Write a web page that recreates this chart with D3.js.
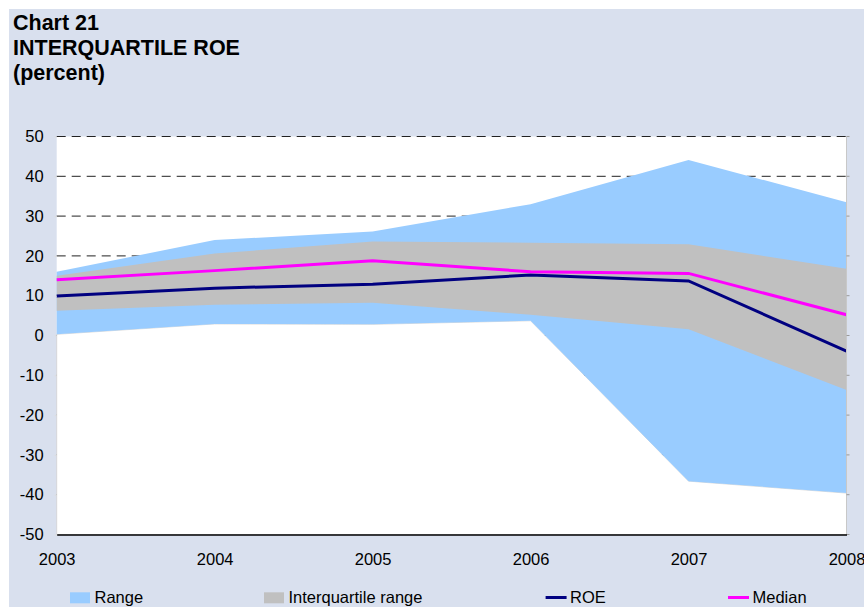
<!DOCTYPE html>
<html>
<head>
<meta charset="utf-8">
<script src="https://cdn.jsdelivr.net/npm/d3@7"></script>
<style>
  html, body { margin: 0; padding: 0; background: #fff; }
  svg { display: block; font-family: "Liberation Sans", Arial, sans-serif; }
</style>
</head>
<body>
<svg id="chart" width="864" height="607"></svg>
<script>
const years      = [2003, 2004, 2005, 2006, 2007, 2008];
const rangeHigh  = [16.0, 24.0, 26.1, 33.0, 44.1, 33.5];
const rangeLow   = [0.3, 2.9, 2.8, 3.7, -36.6, -39.6];
const iqrHigh    = [15.0, 20.6, 23.6, 23.3, 22.9, 16.8];
const iqrLow     = [6.2, 7.7, 8.2, 5.2, 1.6, -13.7];
const roe        = [9.9, 11.9, 12.9, 15.2, 13.7, -3.9];
const median     = [14.0, 16.3, 18.8, 16.0, 15.6, 5.2];
const yTicks     = [-50, -40, -30, -20, -10, 0, 10, 20, 30, 40, 50];
const titleLines = ["Chart 21", "INTERQUARTILE ROE", "(percent)"];
const legendItems = [
  {label: "Range", type: "rect", color: "#99CCFF"},
  {label: "Interquartile range", type: "rect", color: "#C0C0C0"},
  {label: "ROE", type: "line", color: "#000080"},
  {label: "Median", type: "line", color: "#FF00FF"}
];

const svg = d3.select("#chart");
const L = 56.7, R = 846.5, T = 136.5, B = 534.5;

svg.append("rect").attr("x", 9).attr("y", 9).attr("width", 855).attr("height", 598).attr("fill", "#D9E0EE");

// title
svg.append("g").selectAll("text").data(titleLines).join("text")
  .attr("x", 13).attr("y", (d, i) => 30 + i * 25)
  .attr("font-size", 21.5).attr("font-weight", "bold").attr("fill", "#000")
  .text(d => d);

const x = d3.scaleLinear().domain([2003, 2008]).range([L, R]);
const y = d3.scaleLinear().domain([-50, 50]).range([B, T]);

// plot area
svg.append("rect").attr("x", L).attr("y", T).attr("width", R - L).attr("height", B - T).attr("fill", "#fff");

// gridlines
svg.append("g").selectAll("line").data(yTicks.filter(d => d > -50)).join("line")
  .attr("x1", L).attr("x2", R).attr("y1", d => y(d)).attr("y2", d => y(d))
  .attr("stroke", "#222").attr("stroke-width", 1).attr("stroke-dasharray", "9,6");

const data = years.map((yr, i) => ({yr, rh: rangeHigh[i], rl: rangeLow[i], ih: iqrHigh[i], il: iqrLow[i], roe: roe[i], med: median[i]}));

// white base (covers gridlines below range)
svg.append("path").datum(data)
  .attr("d", d3.area().x(d => x(d.yr)).y0(y(-50)).y1(d => y(d.rl)))
  .attr("fill", "#fff").attr("stroke", "#bbb").attr("stroke-width", 0.5);

svg.append("path").datum(data)
  .attr("d", d3.area().x(d => x(d.yr)).y0(d => y(d.rl)).y1(d => y(d.rh)))
  .attr("fill", "#99CCFF");

svg.append("path").datum(data)
  .attr("d", d3.area().x(d => x(d.yr)).y0(d => y(d.il)).y1(d => y(d.ih)))
  .attr("fill", "#C0C0C0");

svg.append("path").datum(data)
  .attr("d", d3.line().x(d => x(d.yr)).y(d => y(d.roe)))
  .attr("fill", "none").attr("stroke", "#000080").attr("stroke-width", 3);

svg.append("path").datum(data)
  .attr("d", d3.line().x(d => x(d.yr)).y(d => y(d.med)))
  .attr("fill", "none").attr("stroke", "#FF00FF").attr("stroke-width", 3);

// right border with ticks
svg.append("line").attr("x1", R).attr("x2", R).attr("y1", T).attr("y2", B)
  .attr("stroke", "#c8c8c8").attr("stroke-width", 1);
svg.append("g").selectAll("line").data(yTicks).join("line")
  .attr("x1", R).attr("x2", R + 3).attr("y1", d => y(d)).attr("y2", d => y(d))
  .attr("stroke", "#999");

// y axis
const yAxis = svg.append("g").attr("transform", `translate(${L},0)`)
  .call(d3.axisLeft(y).tickValues(yTicks).tickSize(2).tickPadding(11).tickFormat(d => String(d)));
yAxis.select(".domain").remove();
yAxis.selectAll(".tick line").attr("stroke", "#ddd");
yAxis.selectAll("text").attr("font-size", 16.5).attr("fill", "#000").attr("font-family", "Liberation Sans, Arial, sans-serif");

// x axis
const xAxis = svg.append("g").attr("transform", `translate(0,${B})`)
  .call(d3.axisBottom(x).tickValues(years).tickSize(0).tickPadding(18.8).tickFormat(d => String(d)));
xAxis.select(".domain").attr("stroke", "#000").attr("stroke-width", 1.5);
xAxis.selectAll("text").attr("font-size", 16.5).attr("fill", "#000").attr("font-family", "Liberation Sans, Arial, sans-serif");

// legend
const legendX = [70, 264, 545.6, 728];
const lg = svg.append("g").selectAll("g").data(legendItems).join("g")
  .attr("transform", (d, i) => `translate(${legendX[i]},0)`);
lg.filter(d => d.type === "rect").append("rect")
  .attr("x", 0).attr("y", 592.3).attr("width", 20).attr("height", 11).attr("fill", d => d.color);
lg.filter(d => d.type === "line").append("line")
  .attr("x1", 0).attr("x2", 21).attr("y1", 597.5).attr("y2", 597.5)
  .attr("stroke", d => d.color).attr("stroke-width", 3);
lg.append("text").attr("x", 24.5).attr("y", 603.3)
  .attr("font-size", 16.5).attr("fill", "#000").text(d => d.label);
</script>
</body>
</html>
